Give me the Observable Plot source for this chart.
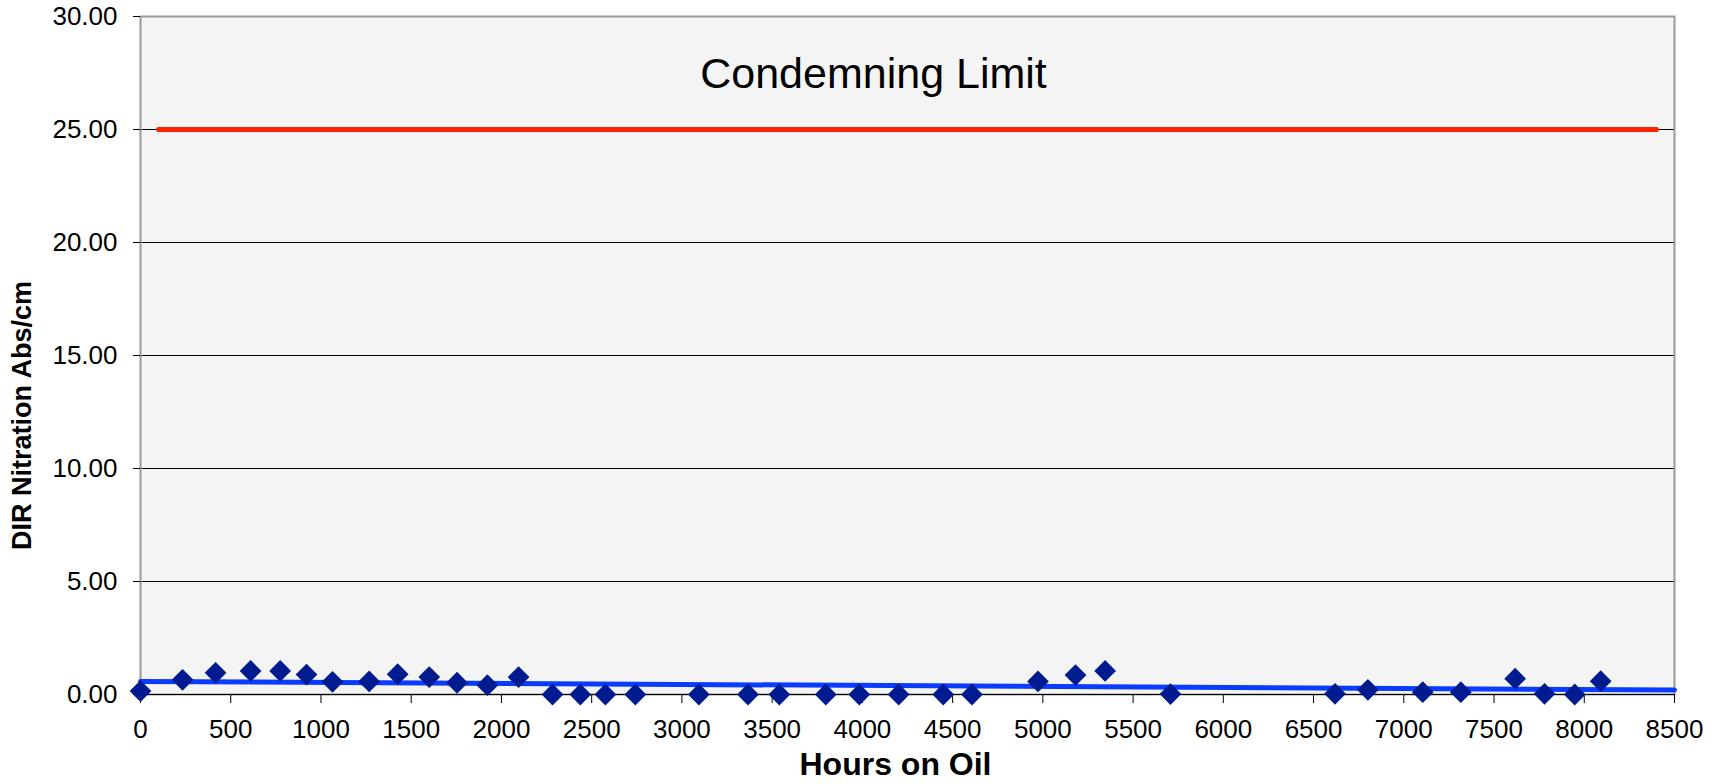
<!DOCTYPE html>
<html>
<head>
<meta charset="utf-8">
<script src="https://cdn.jsdelivr.net/npm/d3@7"></script>
<script src="https://cdn.jsdelivr.net/npm/@observablehq/plot@0.6"></script>
<style>
  html, body { margin: 0; padding: 0; background: #ffffff; }
  #chart { width: 1723px; height: 784px; }
</style>
</head>
<body>
<div id="chart"></div>
<script>
// ---- data ----
const hours = [0, 233, 416, 610, 774, 920, 1064, 1267, 1425, 1600, 1754, 1922, 2095,
  2283, 2437, 2576, 2742, 3094, 3366, 3540, 3797, 3983, 4201, 4448, 4607,
  4973, 5181, 5345, 5707, 6619, 6801, 7105, 7316, 7617, 7780, 7947, 8091];
const nitration = [0.15, 0.65, 0.96, 1.04, 1.04, 0.88, 0.56, 0.58, 0.90, 0.77, 0.52, 0.41, 0.77,
  0, 0, 0, 0, 0, 0, 0, 0, 0, 0, 0, 0,
  0.58, 0.86, 1.04, 0.02, 0.03, 0.21, 0.10, 0.10, 0.70, 0.03, 0, 0.59];
const trendHours = [0, 8500];
const trendValues = [0.58, 0.20];
const limitHours = [100, 8400];
const limitValue = 25;
const limitLabel = "Condemning Limit";
const xTicks = [0, 500, 1000, 1500, 2000, 2500, 3000, 3500, 4000, 4500, 5000, 5500, 6000, 6500, 7000, 7500, 8000, 8500];
const yTicks = [0, 5, 10, 15, 20, 25, 30];
const yGrid = [5, 10, 15, 20, 25];
const xTitle = "Hours on Oil";
const yTitle = "DIR Nitration Abs/cm";

const points = hours.map((h, i) => ({h, v: nitration[i]}));
const trend = trendHours.map((h, i) => ({h, v: trendValues[i]}));
const limit = limitHours.map(h => ({h, v: limitValue}));

const font = "'Liberation Sans', Arial, Helvetica, sans-serif";

const chart = Plot.plot({
  width: 1723,
  height: 784,
  marginLeft: 140,
  marginRight: 49,
  marginTop: 16,
  marginBottom: 90,
  style: {fontFamily: font, background: "#ffffff", color: "#000"},
  x: {domain: [0, 8500]},
  y: {domain: [0, 30]},
  marks: [
    Plot.frame({fill: "#f4f4f4"}),
    Plot.ruleY(yGrid, {stroke: "#000", strokeWidth: 1}),
    Plot.frame({stroke: "#999999", strokeWidth: 2}),
    Plot.ruleY([0], {stroke: "#000", strokeWidth: 1.2}),
    Plot.axisY({ticks: yTicks, tickFormat: d => d.toFixed(2), tickSize: 7, tickPadding: 16,
      fontSize: 26, stroke: "#000", label: null}),
    Plot.axisX({ticks: xTicks, tickFormat: d => String(d), tickSize: 9, tickPadding: 16,
      fontSize: 26, stroke: "#000", label: null}),
    Plot.line(limit, {x: "h", y: "v", stroke: "#ff2200", strokeWidth: 5, strokeLinecap: "round"}),
    Plot.text([limitLabel], {frameAnchor: "top", textAnchor: "middle", lineAnchor: "top", dx: -34, dy: 41,
      fontSize: 43, fill: "#000"}),
    Plot.line(trend, {x: "h", y: "v", stroke: "#0a3cff", strokeWidth: 5}),
    Plot.dot(points, {x: "h", y: "v", symbol: "diamond2", r: 9.8, fill: "#001a8f", stroke: "none"}),
    Plot.text([xTitle], {frameAnchor: "bottom", textAnchor: "middle", lineAnchor: "top", dx: -12, dy: 58,
      fontSize: 32, fontWeight: "bold", fill: "#000"}),
    Plot.text([yTitle], {frameAnchor: "left", textAnchor: "middle", lineAnchor: "middle", rotate: -90, dx: -118, dy: 60,
      fontSize: 27, fontWeight: "bold", fill: "#000"})
  ]
});
document.getElementById("chart").appendChild(chart);
</script>
</body>
</html>
